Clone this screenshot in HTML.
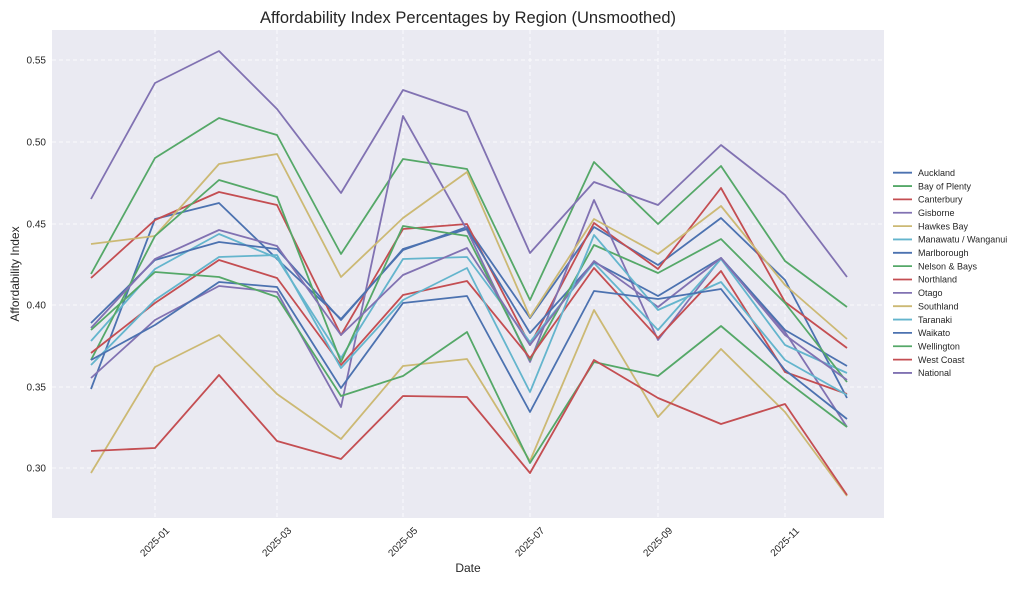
<!DOCTYPE html>
<html><head><meta charset="utf-8"><style>
body{margin:0;background:#fff;}
svg text{font-family:"Liberation Sans",sans-serif;fill:#262626;}
</style></head><body>
<svg id="s" width="1024" height="585" xmlns="http://www.w3.org/2000/svg">
<rect x="0" y="0" width="1024" height="585" fill="#fff"/>
<rect x="52" y="30" width="832" height="488" fill="#EAEAF2"/>
<g id="grid" stroke="#fff" stroke-width="0.8" stroke-dasharray="4,3"></g>
<g id="lines" fill="none" stroke-width="1.8" stroke-linejoin="round"></g>
<text x="468" y="23" font-size="16.5" text-anchor="middle">Affordability Index Percentages by Region (Unsmoothed)</text>
<text x="468" y="572" font-size="12" text-anchor="middle">Date</text>
<text transform="translate(19,274) rotate(-90)" font-size="12" text-anchor="middle">Affordability Index</text>
<g id="ticks" font-size="10"></g>
<g id="legend" font-size="9"></g>
</svg>
<script>
const NS="http://www.w3.org/2000/svg";
function el(p,t,a,txt){const e=document.createElementNS(NS,t);for(const k in a)e.setAttribute(k,a[k]);if(txt)e.textContent=txt;document.getElementById(p).appendChild(e);return e;}
const X=[91,155,219,277,341,403,467,530,594,658,721,785,847];
const yt=[[60,"0.55"],[142,"0.50"],[224,"0.45"],[305,"0.40"],[387,"0.35"],[468,"0.30"]];
yt.forEach(([y,l])=>{el("grid","line",{x1:52,x2:884,y1:y,y2:y});el("ticks","text",{x:46,y:y+3.5,"text-anchor":"end"},l);});
const xt=[[155,"2025-01"],[277,"2025-03"],[403,"2025-05"],[530,"2025-07"],[658,"2025-09"],[785,"2025-11"]];
xt.forEach(([x,l])=>{el("grid","line",{x1:x,x2:x,y1:30,y2:518});el("ticks","text",{x:x,y:545,"text-anchor":"middle",transform:`rotate(-45 ${x} 542)`},l);});
const B="#4C72B0",G="#55A868",R="#C44E52",P="#8172B2",Y="#CCB974",C="#64B5CD";
const S=[
["Auckland",B,[389,219,203,259,319,250,227,318,227,265,218,280,398]],
["Bay of Plenty",G,[274,158,118,135,254,159,169,300,162,224,166,261,307]],
["Canterbury",R,[278,220,192,205,335,229,224,345,223,269,188,302,348]],
["Gisborne",P,[378,320,286,292,407,116,230,362,200,340,258,332,427]],
["Hawkes Bay",Y,[244,236,164,154,277,218,172,317,219,254,206,285,339]],
["Manawatu / Wanganui",C,[341,269,234,258,358,259,257,342,263,330,259,345,373]],
["Marlborough",B,[323,260,242,249,320,249,229,333,262,296,258,330,366]],
["Nelson & Bays",G,[360,236,180,197,362,226,236,360,245,273,239,303,382]],
["Northland",R,[353,303,260,278,365,295,281,358,268,338,271,372,394]],
["Otago",P,[328,259,230,246,335,275,248,345,261,307,258,335,380]],
["Southland",Y,[473,367,335,394,439,366,359,461,310,417,349,412,496]],
["Taranaki",C,[365,300,257,255,368,300,268,392,235,310,282,360,395]],
["Waikato",B,[360,325,282,287,388,303,296,412,291,299,289,370,419]],
["Wellington",G,[330,272,277,297,396,376,332,463,362,376,326,380,427]],
["West Coast",R,[451,448,375,441,459,396,397,473,360,398,424,404,495]],
["National",P,[199,83,51,109,193,90,112,253,182,205,145,195,277]]];
S.forEach(([n,c,ys],i)=>{
 el("lines","polyline",{points:ys.map((y,j)=>X[j]+","+y).join(" "),stroke:c});
 const ly=172.7+i*13.35;
 el("legend","line",{x1:893,x2:912,y1:ly,y2:ly,stroke:c,"stroke-width":1.8});
 el("legend","text",{x:918,y:ly+3.2},n);
});
</script>
</body></html>
